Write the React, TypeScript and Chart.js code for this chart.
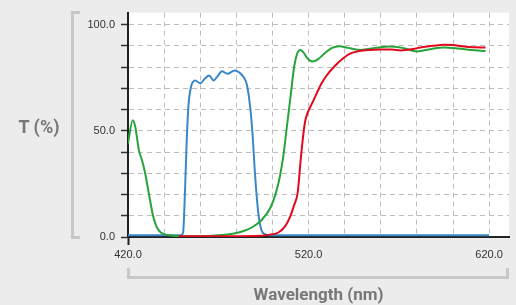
import React, { useEffect, useRef } from "react";
import { Chart, registerables } from "chart.js";

Chart.register(...registerables);

const xTickValues = [420, 440, 460, 480, 500, 520, 540, 560, 580, 600, 620];
const xLabelValues = [420, 520, 620];
const yTickValues = [0, 10, 20, 30, 40, 50, 60, 70, 80, 90, 100];
const yLabelValues = [0, 50, 100];

const greenX = [420, 422.6, 424, 426, 427.8, 429.5, 431, 432.5, 434, 436, 438, 441, 445, 455, 465, 472, 478, 484, 489, 494, 499, 502, 504, 506, 508, 510, 512, 514, 515.5, 517, 519.5, 522, 525, 529, 533, 537, 542, 549, 557, 565, 572, 580, 588, 595, 603, 610, 618];
const greenY = [44, 55, 52, 41, 36, 30, 23, 16, 9.5, 4.5, 2.2, 1.1, 0.6, 0.4, 0.5, 0.9, 1.5, 2.8, 4.7, 8, 14, 21, 28, 38, 52, 66, 80, 87, 88, 87, 84, 82.6, 83.5, 86.5, 89, 89.8, 89, 88, 89, 89.7, 89, 87.3, 88.5, 89.2, 88.7, 88, 87.5];

const redX = [448, 470, 490, 498, 503, 507, 509.5, 512, 514, 515.5, 516.8, 518, 519.5, 522, 525, 527, 530, 534, 539, 543, 548, 553, 560, 566, 571, 577, 582, 589, 595, 600, 605, 612, 618];
const redY = [0.4, 0.4, 0.5, 1, 2, 5, 9, 15, 21, 35, 46, 54, 58.5, 63, 68.5, 72, 76, 80, 84, 86.3, 87.5, 88, 88.2, 88.2, 87.8, 88.3, 89.2, 90, 90.5, 90.3, 89.8, 89.3, 89.2];

const blueX = [420, 449, 450.5, 451.5, 452.5, 453.5, 455, 457.2, 460, 462.5, 465, 467.4, 469.5, 472, 475, 479.1, 481.5, 484, 485.9, 487.8, 489, 490.3, 491.5, 492.5, 494, 496, 500, 620];
const blueY = [0.8, 0.8, 2, 20, 45, 62, 71, 73.7, 72.3, 74.5, 76, 73.7, 75.5, 78, 76.8, 78.4, 77.5, 75.3, 71.4, 60, 48, 30, 17, 9, 3, 1.2, 0.8, 0.8];

const toPoints = (xs: number[], ys: number[]) => xs.map((x, i) => ({ x, y: ys[i] }));

const whiteArea = {
  id: "whiteArea",
  beforeDraw(chart: any) {
    const { ctx, chartArea } = chart;
    ctx.save();
    ctx.fillStyle = "#ffffff";
    ctx.fillRect(chartArea.left, chartArea.top, chartArea.right - chartArea.left, chartArea.bottom - chartArea.top);
    ctx.restore();
  },
};

export default function App() {
  const ref = useRef<HTMLCanvasElement | null>(null);

  useEffect(() => {
    document.body.style.margin = "0";
    if (!ref.current) return;
    const chart = new Chart(ref.current, {
      type: "line",
      data: {
        datasets: [
          { label: "red", data: toPoints(redX, redY), borderColor: "#e2081e", borderWidth: 2, pointRadius: 0, cubicInterpolationMode: "monotone", order: 0 },
          { label: "green", data: toPoints(greenX, greenY), borderColor: "#27a33a", borderWidth: 2, pointRadius: 0, cubicInterpolationMode: "monotone", order: 1 },
          { label: "blue", data: toPoints(blueX, blueY), borderColor: "#3a87c7", borderWidth: 2, pointRadius: 0, cubicInterpolationMode: "monotone", order: 2 },
        ],
      },
      options: {
        responsive: false,
        animation: false,
        layout: { padding: { left: 0, right: 7, top: 12, bottom: 0 } },
        plugins: { legend: { display: false }, tooltip: { enabled: false } },
        scales: {
          x: {
            type: "linear",
            min: 420,
            max: 631,
            afterBuildTicks: (s: any) => { s.ticks = xTickValues.map((v) => ({ value: v })); },
            afterFit: (s: any) => { s.height = 68; },
            border: { display: true, color: "#222222", width: 2, dash: [5, 4] },
            grid: {
              color: (c: any) => (c.tick && c.tick.value === 420 ? "rgba(0,0,0,0)" : "#bdbdbd"),
              tickColor: (c: any) => (c.tick && c.tick.value === 420 ? "#222222" : "rgba(0,0,0,0)"),
              tickBorderDash: [],
              tickLength: 8,
              lineWidth: 1,
              tickWidth: 2,
            },
            ticks: {
              autoSkip: false,
              maxRotation: 0,
              padding: 3,
              color: "#333333",
              font: { family: "'Liberation Sans', Arial, sans-serif", size: 11 },
              callback: (v: any) => (xLabelValues.includes(Number(v)) ? Number(v).toFixed(1) : ""),
            },
          },
          y: {
            type: "linear",
            min: 0,
            max: 105.6,
            afterBuildTicks: (s: any) => { s.ticks = yTickValues.map((v) => ({ value: v })); },
            afterFit: (s: any) => { s.width = 128; },
            border: { display: true, color: "#222222", width: 2, dash: [5, 4] },
            grid: {
              color: (c: any) => (c.tick && c.tick.value === 0 ? "rgba(0,0,0,0)" : "#bdbdbd"),
              tickColor: "#333333",
              tickBorderDash: [],
              tickLength: 7,
              lineWidth: 1,
              tickWidth: 1.5,
            },
            ticks: {
              autoSkip: false,
              padding: 6,
              color: "#333333",
              font: { family: "'Liberation Sans', Arial, sans-serif", size: 11 },
              callback: (v: any) => (yLabelValues.includes(Number(v)) ? Number(v).toFixed(1) : ""),
            },
          },
        },
      },
      plugins: [whiteArea],
    } as any);
    return () => chart.destroy();
  }, []);

  const titleFont = "Roboto, 'Liberation Sans', sans-serif";
  return (
    <div style={{ position: "fixed", left: 0, top: 0, width: 516, height: 305, background: "#ebeceb", overflow: "hidden" }}>
      <canvas ref={ref} width={516} height={305} style={{ position: "absolute", left: 0, top: 0, width: 516, height: 305 }} />
      <div style={{ position: "absolute", left: 71, top: 11, width: 6, height: 222, borderLeft: "3px solid #c8c8c8", borderTop: "3px solid #c8c8c8", borderBottom: "3px solid #c8c8c8" }} />
      <div style={{ position: "absolute", left: 127, top: 268, width: 376, height: 8, borderLeft: "3px solid #c8c8c8", borderRight: "3px solid #c8c8c8", borderBottom: "3px solid #c8c8c8" }} />
      <div style={{ position: "absolute", left: 0, top: 116, width: 78, textAlign: "center", fontFamily: titleFont, fontWeight: 700, fontSize: 18, color: "#777777", lineHeight: "22px" }}>T (%)</div>
      <div style={{ position: "absolute", left: 128, top: 283, width: 381, textAlign: "center", fontFamily: titleFont, fontWeight: 700, fontSize: 17, color: "#777777", lineHeight: "22px" }}>Wavelength (nm)</div>
    </div>
  );
}
